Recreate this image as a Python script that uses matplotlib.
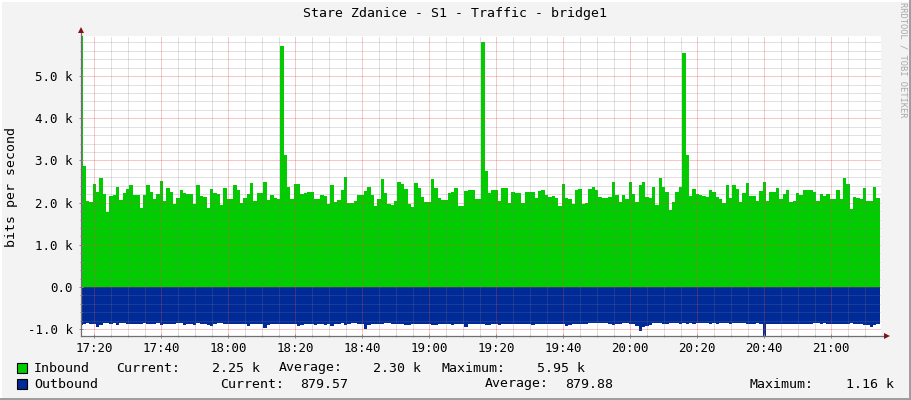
import numpy as np
import matplotlib
matplotlib.use("Agg")
import matplotlib.pyplot as plt
from matplotlib.patches import Rectangle
from matplotlib.ticker import MultipleLocator

# ---------------- data ----------------
title = "Stare Zdanice - S1 - Traffic - bridge1"
y_label = "bits per second"

start_minute = 15.5      # first sample, minutes after 17:00
step_minutes = 1.0       # sample spacing

inbound_k = [
    5.95, 2.86, 2.05, 2.01, 2.44, 2.25, 2.59, 2.21, 1.78, 2.15,
    2.17, 2.37, 2.07, 2.23, 2.33, 2.43, 2.19, 2.19, 1.88, 2.17,
    2.42, 2.25, 2.08, 2.21, 2.52, 2.05, 2.35, 2.25, 1.96, 2.11,
    2.29, 2.22, 2.21, 2.21, 1.96, 2.43, 2.15, 2.13, 1.87, 2.33,
    2.22, 2.21, 1.95, 2.35, 2.08, 2.08, 2.41, 2.29, 2.00, 2.11,
    2.21, 2.47, 2.05, 2.23, 2.23, 2.48, 2.07, 2.17, 2.10, 2.09,
    5.71, 3.14, 2.37, 2.08, 2.44, 2.44, 2.20, 2.23, 2.25, 2.25,
    2.08, 2.08, 2.17, 2.15, 1.96, 2.41, 2.01, 2.07, 2.29, 2.61,
    2.00, 2.00, 2.05, 2.19, 2.19, 2.27, 2.38, 2.19, 1.91, 2.09,
    2.56, 2.22, 1.97, 1.95, 2.05, 2.50, 2.44, 2.33, 1.96, 1.89,
    2.47, 2.34, 2.13, 2.01, 2.01, 2.57, 2.34, 2.12, 2.07, 2.07,
    2.23, 2.25, 2.35, 1.92, 1.92, 2.27, 2.29, 2.30, 2.09, 2.09,
    5.80, 2.76, 2.22, 2.29, 2.30, 2.03, 2.35, 2.35, 1.99, 2.25,
    2.22, 2.22, 2.00, 2.26, 2.26, 2.26, 2.11, 2.27, 2.29, 2.19,
    2.13, 2.15, 2.11, 1.91, 2.44, 2.11, 2.08, 1.97, 2.29, 2.33,
    1.97, 1.99, 2.33, 2.37, 2.29, 2.13, 2.11, 2.11, 2.13, 2.48,
    2.19, 2.01, 2.17, 2.09, 2.48, 2.21, 2.01, 2.41, 2.48, 2.13,
    2.11, 2.38, 1.95, 2.59, 2.37, 2.25, 1.83, 2.01, 2.25, 2.37,
    5.54, 3.14, 2.15, 2.33, 2.21, 2.17, 2.15, 2.13, 2.29, 2.26,
    2.13, 2.09, 2.00, 2.42, 2.10, 2.42, 2.33, 2.01, 2.22, 2.47,
    2.15, 2.15, 2.03, 2.27, 2.48, 2.03, 2.25, 2.25, 2.35, 2.09,
    2.21, 2.30, 2.01, 2.03, 2.23, 2.19, 2.30, 2.30, 2.30, 2.25,
    2.03, 2.20, 2.15, 2.20, 2.08, 2.08, 2.30, 2.09, 2.59, 2.44,
    1.84, 2.13, 2.11, 2.08, 2.35, 2.04, 2.04, 2.38, 2.11,
]

outbound_k = [
    0.90, 0.87, 0.86, 0.87, 0.88, 0.94, 0.91, 0.86, 0.86, 0.87,
    0.86, 0.91, 0.86, 0.85, 0.87, 0.87, 0.87, 0.87, 0.87, 0.86,
    0.87, 0.87, 0.87, 0.86, 0.91, 0.87, 0.87, 0.87, 0.87, 0.86,
    0.86, 0.89, 0.88, 0.87, 0.91, 0.86, 0.87, 0.87, 0.91, 0.92,
    0.87, 0.86, 0.86, 0.87, 0.87, 0.87, 0.87, 0.87, 0.87, 0.87,
    0.92, 0.87, 0.87, 0.87, 0.87, 0.98, 0.90, 0.87, 0.87, 0.87,
    0.87, 0.87, 0.87, 0.87, 0.87, 0.93, 0.89, 0.87, 0.87, 0.87,
    0.90, 0.87, 0.87, 0.90, 0.87, 0.92, 0.87, 0.87, 0.86, 0.91,
    0.87, 0.86, 0.86, 0.87, 0.87, 0.99, 0.89, 0.87, 0.87, 0.87,
    0.87, 0.86, 0.86, 0.87, 0.87, 0.87, 0.87, 0.90, 0.91, 0.87,
    0.87, 0.87, 0.87, 0.87, 0.87, 0.90, 0.90, 0.87, 0.87, 0.87,
    0.87, 0.91, 0.88, 0.87, 0.87, 0.95, 0.87, 0.87, 0.87, 0.87,
    0.88, 0.90, 0.89, 0.87, 0.87, 0.90, 0.87, 0.87, 0.87, 0.87,
    0.87, 0.87, 0.87, 0.87, 0.87, 0.90, 0.87, 0.87, 0.87, 0.87,
    0.87, 0.87, 0.87, 0.87, 0.87, 0.93, 0.90, 0.87, 0.87, 0.87,
    0.87, 0.87, 0.86, 0.86, 0.86, 0.86, 0.86, 0.86, 0.88, 0.90,
    0.87, 0.87, 0.86, 0.86, 0.87, 0.87, 0.92, 1.04, 0.95, 0.92,
    0.89, 0.86, 0.86, 0.85, 0.87, 0.87, 0.86, 0.86, 0.86, 0.87,
    0.86, 0.87, 0.86, 0.87, 0.86, 0.85, 0.86, 0.86, 0.87, 0.86,
    0.87, 0.86, 0.85, 0.86, 0.87, 0.86, 0.85, 0.86, 0.86, 0.87,
    0.87, 0.87, 0.86, 0.87, 1.16, 0.88, 0.87, 0.88, 0.87, 0.87,
    0.87, 0.87, 0.87, 0.87, 0.87, 0.87, 0.87, 0.88, 0.88, 0.86,
    0.85, 0.87, 0.86, 0.87, 0.87, 0.87, 0.87, 0.87, 0.87, 0.87,
    0.86, 0.87, 0.87, 0.87, 0.90, 0.91, 0.95, 0.90, 0.88,
]

x_tick_minutes = [20, 40, 60, 80, 100, 120, 140, 160, 180, 200, 220, 240]
x_tick_labels = ["17:20", "17:40", "18:00", "18:20", "18:40", "19:00",
                 "19:20", "19:40", "20:00", "20:20", "20:40", "21:00"]
y_ticks = [-1000, 0, 1000, 2000, 3000, 4000, 5000]
y_tick_labels = ["-1.0 k", "0.0", "1.0 k", "2.0 k", "3.0 k", "4.0 k", "5.0 k"]

legend_rows = [
    ("Inbound", "#00cc00",
     [("Current:", 116), ("2.25 k", 212), ("Average:", 279), ("2.30 k", 373),
      ("Maximum:", 441), ("5.95 k", 537)]),
    ("Outbound", "#002a97",
     [("Current:", 220), ("879.57", 300), ("Average:", 485), ("879.88", 565),
      ("Maximum:", 750), ("1.16 k", 846)]),
]

# ---------------- figure ----------------
W, H = 911, 400
MONO = "DejaVu Sans Mono"
fig = plt.figure(figsize=(W / 100, H / 100), dpi=100, facecolor="#f3f3f3")

ax = fig.add_axes([81 / W, 64 / H, 800 / W, 300 / H])
ax.set_facecolor("white")

n = len(inbound_k)
edges = start_minute + step_minutes * np.arange(n + 1)
inb = np.array(inbound_k) * 1000.0
outb = -np.array(outbound_k) * 1000.0
ax.fill_between(edges, 0, np.append(inb, inb[-1]), step="post",
                color="#00cc00", lw=0, zorder=1)
ax.fill_between(edges, 0, np.append(outb, outb[-1]), step="post",
                color="#002a97", lw=0, zorder=1)

ax.set_xlim(16.03, 254.85)
ax.set_ylim(-1160, 5950)

ax.set_xticks(x_tick_minutes)
ax.set_xticklabels(x_tick_labels, family=MONO, fontsize=9)
ax.set_yticks(y_ticks)
ax.set_yticklabels(y_tick_labels, family=MONO, fontsize=9)
ax.xaxis.set_minor_locator(MultipleLocator(5))
ax.yaxis.set_minor_locator(MultipleLocator(200))

ax.set_axisbelow(False)
dot = (0, (1, 1))
ax.grid(which="minor", color="#7a7a7a", alpha=0.45, lw=0.72, linestyle=dot)
ax.grid(which="major", color="#e04848", alpha=0.6, lw=0.72, linestyle=dot)

ax.tick_params(which="major", direction="inout", length=3, width=0.72,
               color="#909090", pad=3)
ax.tick_params(which="minor", direction="inout", length=2, width=0.72,
               color="#a0a0a0")
ax.tick_params(axis="y", which="major", pad=4.5)

for s in ("top", "right", "left", "bottom"):
    ax.spines[s].set_visible(False)

axis_col = "#707070"
arrow_col = "#7f1515"
ax.plot([0, 0], [0, 1 + 6 / 300], transform=ax.transAxes, clip_on=False,
        color=axis_col, lw=0.9, zorder=5)
ax.plot([0, 1 + 4 / 800], [0, 0], transform=ax.transAxes, clip_on=False,
        color=axis_col, lw=0.9, zorder=5)
ax.plot([0], [1 + 6 / 300], marker="^", ms=5, color=arrow_col,
        transform=ax.transAxes, clip_on=False, zorder=6, mew=0)
ax.plot([1 + 6 / 800], [0], marker=">", ms=5, color=arrow_col,
        transform=ax.transAxes, clip_on=False, zorder=6, mew=0)

# title, axis label, credit
fig.text(455 / W, 1 - 14 / H, title, ha="center", va="center",
         family=MONO, fontsize=9.5, color="#000000")
fig.text(12 / W, 1 - 187 / H, y_label, rotation=90, ha="center",
         va="center", family=MONO, fontsize=9.5)
fig.text(903 / W, 1 - 60 / H, "RRDTOOL / TOBI OETIKER", rotation=270,
         ha="center", va="center", family=MONO, fontsize=6.3,
         color="#a8a8a8")

# legend
row_y = [368, 384]
for (name, col, items), yy in zip(legend_rows, row_y):
    fig.add_artist(Rectangle((17 / W, 1 - (yy + 5) / H), 10 / W, 10 / H,
                             transform=fig.transFigure, facecolor=col,
                             edgecolor="black", lw=0.8))
    fig.text(34 / W, 1 - yy / H, name, ha="left", va="center",
             family=MONO, fontsize=9.5)
    for txt, xx in items:
        fig.text(xx / W, 1 - yy / H, txt, ha="left", va="center",
                 family=MONO, fontsize=9.5)

# 3D frame of the image
fig.add_artist(Rectangle((0, 0), 2 / W, 1, transform=fig.transFigure,
                         facecolor="#ffffff", lw=0))
fig.add_artist(Rectangle((0, 1 - 2 / H), 1, 2 / H, transform=fig.transFigure,
                         facecolor="#ffffff", lw=0))
fig.add_artist(Rectangle((1 - 2 / W, 0), 2 / W, 1, transform=fig.transFigure,
                         facecolor="#9e9e9e", lw=0))
fig.add_artist(Rectangle((0, 0), 1, 2 / H, transform=fig.transFigure,
                         facecolor="#9e9e9e", lw=0))

fig.savefig("out.png", dpi=100, facecolor=fig.get_facecolor())
